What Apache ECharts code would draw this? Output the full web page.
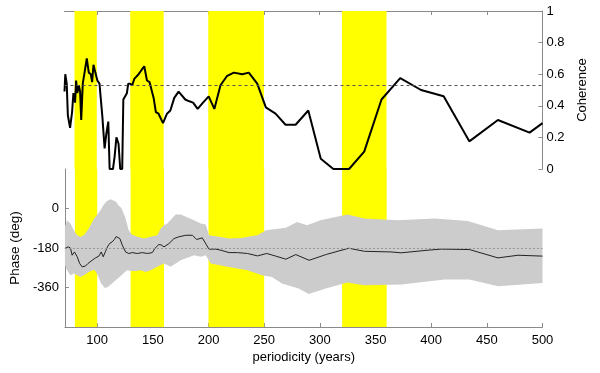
<!DOCTYPE html>
<html>
<head>
<meta charset="utf-8">
<script src="https://cdn.jsdelivr.net/npm/echarts@6/dist/echarts.min.js"></script>
<style>html,body{margin:0;padding:0;background:#fff}#c{width:600px;height:373px}</style>
</head>
<body>
<div id="c"></div>
<script>
// ---- data ----
const xTicks = [100, 150, 200, 250, 300, 350, 400, 450, 500];
const phaseTicks = [-360, -180, 0];
const bands = [[80, 100], [130, 160], [200, 250], [320, 360]];
const cohThreshold = 0.53;
const phaseRef = -180;

const periodCoh = [71, 71.7, 73, 74, 76, 77.8, 79, 80.5, 81.4, 82.5, 83.8, 85, 86, 87.4, 89, 91, 92.8, 94.6, 95.8, 97, 98.7, 100.5, 102.4, 103.5, 105, 107, 108.5, 110.3, 111.5, 114.5, 116, 117.6, 119.5, 121, 122.8, 123.8, 125.5, 127, 128.2, 130, 131.8, 133.6, 137.5, 140.5, 142.6, 145, 147.3, 151, 153, 155.4, 159.4, 163, 166, 169.5, 173.4, 179.4, 182.4, 186.4, 190.5, 195.3, 200.4, 205.5, 211, 217, 223, 230.5, 236.4, 244, 251.7, 260.4, 269.4, 278.4, 289.8, 301, 312.3, 326.4, 340, 355.5, 372.3, 391, 411.3, 434.3, 460, 488.4, 500];
const coherence = [0.49, 0.60, 0.54, 0.34, 0.26, 0.36, 0.48, 0.42, 0.56, 0.48, 0.53, 0.49, 0.31, 0.54, 0.61, 0.70, 0.61, 0.60, 0.55, 0.66, 0.61, 0.56, 0.54, 0.45, 0.33, 0.13, 0.22, 0.30, 0.0, 0.0, 0.08, 0.20, 0.16, 0.0, 0.0, 0.44, 0.45, 0.48, 0.54, 0.54, 0.53, 0.57, 0.60, 0.63, 0.65, 0.56, 0.55, 0.45, 0.36, 0.35, 0.29, 0.35, 0.37, 0.45, 0.49, 0.44, 0.43, 0.42, 0.38, 0.42, 0.46, 0.38, 0.53, 0.59, 0.61, 0.60, 0.61, 0.54, 0.39, 0.35, 0.28, 0.28, 0.37, 0.065, 0.0, 0.0, 0.11, 0.44, 0.575, 0.50, 0.46, 0.175, 0.31, 0.23, 0.29];

const periodPh = [71, 72.4, 74, 76, 77.5, 79.6, 82, 84.3, 86.5, 89.5, 91.6, 95.5, 98.5, 101.5, 103.6, 105.4, 107.5, 109.5, 111.5, 113.5, 115.6, 117, 118.5, 120.4, 122.5, 125.5, 128.4, 131.5, 136, 140.5, 145, 149.5, 151.8, 155.4, 158, 160, 164.4, 169, 173.4, 179.5, 185.5, 189.3, 194.4, 200.4, 206.5, 211, 218.5, 226, 235, 244, 252.3, 260.4, 269.4, 278.4, 290.4, 306, 326, 340, 364, 373, 397, 409, 434.3, 460, 478, 500];
const phase = [-182, -190, -175, -180, -213, -198, -220, -251, -266, -262, -251, -236, -225, -217, -198, -220, -195, -172, -158, -152, -140, -128, -122, -137, -167, -198, -205, -201, -205, -201, -205, -201, -182, -164, -167, -175, -160, -137, -129, -122, -122, -141, -134, -185, -185, -190, -201, -201, -205, -216, -205, -217, -231, -210, -236, -209, -181, -195, -198, -202, -190, -185, -187, -225, -213, -217];

const upperX = [71, 73, 76, 79, 82, 85, 88, 92.4, 97.3, 100, 103.3, 106, 108.3, 111.7, 114, 116.7, 119, 121.7, 125, 128.3, 131, 136, 142, 148, 154, 157, 160, 163, 170.5, 175, 187, 193, 197.5, 200.4, 209.4, 218.5, 229, 244, 251.6, 269.4, 279.6, 288.6, 300.5, 324.8, 339.9, 369.8, 403, 433, 460, 500];
const upperPh = [-84, -53, -68, -99, -122, -129, -122, -91, -46, -28, -5, 18, 32, 42, 38, 32, 15, 2, -38, -99, -118, -129, -137, -129, -122, -91, -76, -68, -27, -27, -53, -68, -73, -122, -129, -137, -134, -122, -99, -88, -61, -76, -53, -27, -46, -53, -46, -57, -99, -91];
const lowerX = [71, 73, 76, 79, 82, 85, 88, 92.4, 97.3, 100, 103.5, 107, 110, 115, 120, 126.7, 133, 139, 143.5, 148, 154, 157, 160, 166, 175, 187, 193, 197.5, 202, 217, 235, 248, 257, 266, 281, 290, 300.5, 305.4, 324.8, 339.9, 373, 412, 434.3, 460, 500];
const lowerPh = [-258, -281, -304, -296, -304, -312, -304, -289, -279, -298, -342, -362, -357, -334, -312, -281, -286, -281, -289, -281, -266, -258, -251, -266, -236, -213, -220, -213, -251, -266, -281, -304, -312, -342, -365, -390, -372, -365, -337, -350, -346, -324, -324, -354, -339];

// ---- chart ----
const FONT = 'Liberation Sans, Arial, sans-serif';
const AX = '#8a8a8a';
const chart = echarts.init(document.getElementById('c'), null, {renderer: 'canvas'});
const bandAreas = bands.map(b => [{xAxis: b[0]}, {xAxis: b[1]}]);

chart.setOption({
  animation: false,
  textStyle: {fontFamily: FONT},
  grid: [
    {left: 64.5, right: 57.5, top: 11, height: 158},
    {left: 64.5, right: 57.5, top: 169, height: 158}
  ],
  xAxis: [
    {gridIndex: 0, type: 'value', min: 71, max: 500, position: 'top',
     axisLine: {show: true, onZero: false, lineStyle: {color: AX}},
     axisTick: {show: true, inside: true, length: 4, customValues: xTicks, lineStyle: {color: AX}},
     axisLabel: {show: false}, splitLine: {show: false}},
    {gridIndex: 1, type: 'value', min: 71, max: 500, position: 'bottom',
     axisLine: {show: true, onZero: false, lineStyle: {color: AX}},
     axisTick: {show: true, inside: true, length: 4, customValues: xTicks, lineStyle: {color: AX}},
     axisLabel: {show: true, customValues: xTicks, color: '#000', fontSize: 13, margin: 7, fontFamily: FONT},
     splitLine: {show: false},
     name: 'periodicity (years)', nameLocation: 'middle', nameGap: 24,
     nameTextStyle: {color: '#000', fontSize: 13, fontFamily: FONT}}
  ],
  yAxis: [
    {gridIndex: 0, type: 'value', min: 0, max: 1, interval: 0.2, position: 'right',
     axisLine: {show: true, onZero: false, lineStyle: {color: AX}},
     axisTick: {show: true, inside: true, length: 4, lineStyle: {color: AX}},
     axisLabel: {show: true, color: '#000', fontSize: 13, margin: 4, fontFamily: FONT},
     splitLine: {show: false},
     name: 'Coherence', nameLocation: 'middle', nameRotate: 90, nameGap: 32,
     nameTextStyle: {color: '#000', fontSize: 13, fontFamily: FONT}},
    {gridIndex: 1, type: 'value', min: -540, max: 180, interval: 180, position: 'left',
     axisLine: {show: true, onZero: false, lineStyle: {color: AX}},
     axisTick: {show: true, inside: true, length: 4, customValues: phaseTicks, lineStyle: {color: AX}},
     axisLabel: {show: true, customValues: phaseTicks, color: '#000', fontSize: 13, margin: 6, fontFamily: FONT},
     splitLine: {show: false},
     name: 'Phase (deg)', nameLocation: 'middle', nameRotate: 90, nameGap: 35,
     nameTextStyle: {color: '#000', fontSize: 13.5, fontFamily: FONT}}
  ],
  series: [
    {type: 'line', xAxisIndex: 0, yAxisIndex: 0, data: [], z: 1, silent: true,
     markArea: {silent: true, itemStyle: {color: '#ffff00', opacity: 1}, data: bandAreas}},
    {type: 'line', xAxisIndex: 1, yAxisIndex: 1, data: [], z: 1, silent: true,
     markArea: {silent: true, itemStyle: {color: '#ffff00', opacity: 1}, data: bandAreas}},
    {type: 'custom', xAxisIndex: 1, yAxisIndex: 1, z: 2, silent: true,
     data: [[upperX[0], upperPh[0]]],
     encode: {x: 0, y: 1},
     renderItem: function (params, api) {
       const pts = [];
       for (let i = 0; i < upperX.length; i++) pts.push(api.coord([upperX[i], upperPh[i]]));
       for (let i = lowerX.length - 1; i >= 0; i--) pts.push(api.coord([lowerX[i], lowerPh[i]]));
       return {type: 'polygon', shape: {points: pts}, style: {fill: '#cccccc', stroke: null}};
     }},
    {type: 'line', xAxisIndex: 1, yAxisIndex: 1, z: 4, symbol: 'none', silent: true,
     data: periodPh.map((p, i) => [p, phase[i]]),
     lineStyle: {color: '#222', width: 1},
     markLine: {silent: true, symbol: 'none', label: {show: false},
       lineStyle: {color: '#999', type: [2, 2], width: 1},
       data: [{yAxis: phaseRef}]}},
    {type: 'line', xAxisIndex: 0, yAxisIndex: 0, z: 4, symbol: 'none', silent: true,
     data: periodCoh.map((p, i) => [p, coherence[i]]),
     lineStyle: {color: '#000', width: 2},
     markLine: {silent: true, symbol: 'none', label: {show: false},
       lineStyle: {color: '#555', type: [3, 3], width: 1},
       data: [{yAxis: cohThreshold}]}}
  ]
});
</script>
</body>
</html>
